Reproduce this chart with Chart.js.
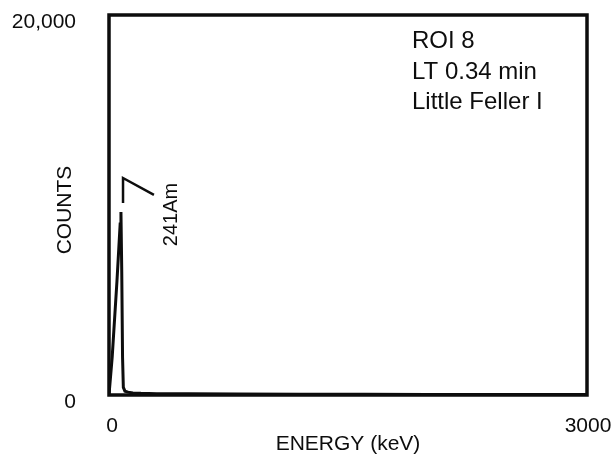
<!DOCTYPE html>
<html lang="en">
<head>
    <meta charset="UTF-8">
    <title>Spectrum</title>
    <style>
        html, body { margin: 0; padding: 0; background: #fff; }
        #wrap { width: 613px; height: 456px; }
    </style>
</head>
<body>
    <div id="wrap">
        <canvas id="myChart" width="613" height="456"></canvas>
    </div>

    <script src="https://cdn.jsdelivr.net/npm/chart.js"></script>

    <script>
        // spectrum (keV, counts)
        var energy = [0, 6, 20, 35, 50, 62, 70, 75, 80, 85, 90, 100, 120, 150, 200, 300, 500, 800, 1200, 1600, 2000, 2500, 3000];
        var counts = [0, 0, 2000, 4000, 6000, 7800, 9000, 9630, 6500, 2000, 400, 200, 150, 110, 90, 70, 60, 50, 40, 35, 30, 25, 20];

        var xTicks = [0, 3000];
        var xTickLabels = ['0', '3000'];
        var yTicks = [0, 20000];
        var yTickLabels = ['0', '20,000'];

        var xTitle = 'ENERGY (keV)';
        var yTitle = 'COUNTS';
        var infoLines = ['ROI 8', 'LT 0.34 min', 'Little Feller I'];

        // peak marker "7" and its label, in data units
        var markerX = [88, 88, 282];
        var markerY = [10100, 11420, 10530];
        var peakLabel = '241Am';

        var FONT = '"Liberation Sans", Arial, sans-serif';
        var INK = '#0d0d0d';

        var points = [];
        for (var i = 0; i < energy.length; i++) {
            points.push({x: energy[i], y: counts[i]});
        }

        var decorations = {
            id: 'decorations',
            afterDatasetsDraw: function(chart) {
                var ctx = chart.ctx;
                var a = chart.chartArea;
                var xs = chart.scales.x;
                var ys = chart.scales.y;
                ctx.save();

                // frame
                ctx.strokeStyle = INK;
                ctx.lineWidth = 3.5;
                ctx.strokeRect(a.left, a.top, a.right - a.left, a.bottom - a.top);

                ctx.fillStyle = INK;
                ctx.font = '21px ' + FONT;

                // y tick labels
                ctx.textAlign = 'right';
                ctx.textBaseline = 'alphabetic';
                for (var i = 0; i < yTicks.length; i++) {
                    ctx.fillText(yTickLabels[i], a.left - 33, ys.getPixelForValue(yTicks[i]) + 13);
                }

                // x tick labels
                ctx.textAlign = 'center';
                for (var j = 0; j < xTicks.length; j++) {
                    var off = j === 0 ? 3 : 1;
                    ctx.fillText(xTickLabels[j], xs.getPixelForValue(xTicks[j]) + off, a.bottom + 37);
                }

                // axis titles
                ctx.fillText(xTitle, (a.left + a.right) / 2, a.bottom + 55);
                ctx.save();
                ctx.translate(a.left - 44, (a.top + a.bottom) / 2 + 5);
                ctx.rotate(-Math.PI / 2);
                ctx.textBaseline = 'middle';
                ctx.fillText(yTitle, 0, 0);
                ctx.restore();

                // info block
                ctx.font = '24px ' + FONT;
                ctx.textAlign = 'left';
                for (var k = 0; k < infoLines.length; k++) {
                    ctx.fillText(infoLines[k], 412, 48 + k * 30.5);
                }

                // peak marker
                ctx.lineWidth = 2.5;
                ctx.beginPath();
                for (var m = 0; m < markerX.length; m++) {
                    var px = xs.getPixelForValue(markerX[m]);
                    var py = ys.getPixelForValue(markerY[m]);
                    if (m === 0) ctx.moveTo(px, py); else ctx.lineTo(px, py);
                }
                ctx.stroke();

                // peak label, rotated
                ctx.save();
                ctx.translate(xs.getPixelForValue(390), ys.getPixelForValue(9500));
                ctx.rotate(-Math.PI / 2);
                ctx.font = '20px ' + FONT;
                ctx.textAlign = 'center';
                ctx.textBaseline = 'middle';
                ctx.fillText(peakLabel, 0, 0);
                ctx.restore();

                ctx.restore();
            }
        };

        var ctx = document.getElementById('myChart');
        var myChart = new Chart(ctx, {
            type: 'line',
            data: {
                datasets: [{
                    label: 'Counts',
                    data: points,
                    borderColor: INK,
                    borderWidth: 3,
                    pointRadius: 0,
                    tension: 0,
                    fill: false
                }]
            },
            options: {
                responsive: false,
                animation: false,
                devicePixelRatio: 1,
                layout: {
                    padding: {left: 109, top: 15, right: 26, bottom: 61}
                },
                plugins: {
                    legend: {display: false},
                    tooltip: {enabled: false}
                },
                scales: {
                    x: {type: 'linear', min: 0, max: 3000, display: false},
                    y: {type: 'linear', min: 0, max: 20000, display: false}
                }
            },
            plugins: [decorations]
        });
    </script>
</body>
</html>
